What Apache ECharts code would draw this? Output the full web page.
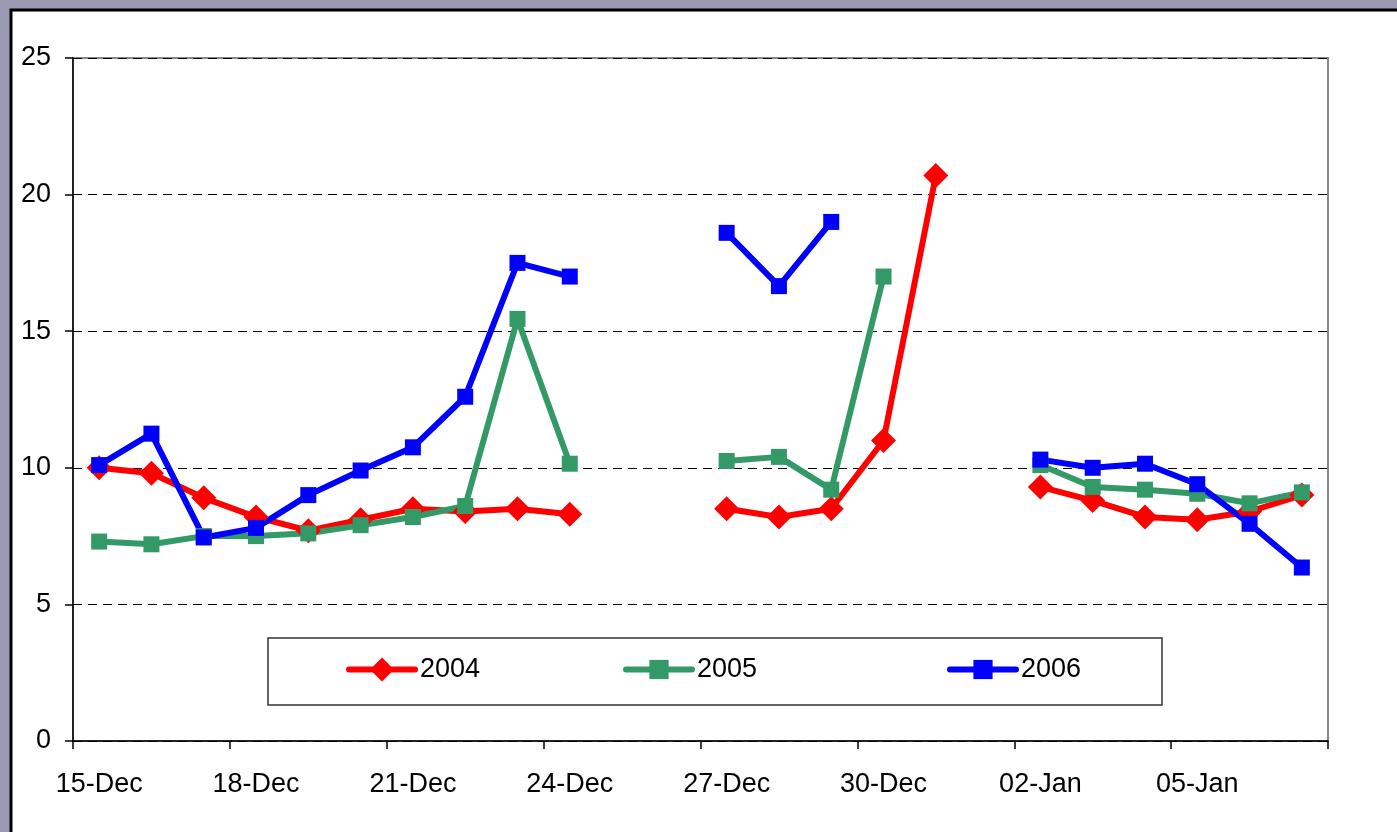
<!DOCTYPE html>
<html>
<head>
<meta charset="utf-8">
<script src="https://cdn.jsdelivr.net/npm/echarts@6/dist/echarts.min.js"></script>
<style>
  html, body { margin: 0; padding: 0; background: #9a9ab4; }
  #chart { width: 1397px; height: 832px; }
</style>
</head>
<body>
<div id="chart"></div>
<script>
var fontsty = 'Liberation Sans';
var days = ['15-Dec','16-Dec','17-Dec','18-Dec','19-Dec','20-Dec','21-Dec','22-Dec','23-Dec','24-Dec',
  '25-Dec','26-Dec','27-Dec','28-Dec','29-Dec','30-Dec','31-Dec',
  '01-Jan','02-Jan','03-Jan','04-Jan','05-Jan','06-Jan','07-Jan'];
var y2004 = [10.0, 9.8, 8.9, 8.2, 7.7, 8.1, 8.5, 8.4, 8.5, 8.3, null, null, 8.5, 8.2, 8.5, 11.0, 20.7,
  null, 9.3, 8.8, 8.2, 8.1, 8.4, 9.0];
var y2005 = [7.3, 7.2, 7.5, 7.5, 7.6, 7.9, 8.2, 8.6, 15.45, 10.15, null, null, 10.25, 10.4, 9.2, 17.0, null,
  null, 10.1, 9.3, 9.2, 9.05, 8.7, 9.1];
var y2006 = [10.1, 11.25, 7.45, 7.8, 9.0, 9.9, 10.75, 12.6, 17.5, 17.0, null, null, 18.6, 16.65, 19.0, null, null,
  null, 10.3, 10.0, 10.15, 9.4, 7.95, 6.35];
var yTicks = [0, 5, 10, 15, 20, 25];

var myChart = echarts.init(document.getElementById('chart'));

function makeLegend(name, left, h) {
  return {
    data: [name],
    left: left,
    top: 656,
    padding: 0,
    itemWidth: 66,
    itemHeight: h,
    lineStyle: { width: 6, cap: 'round' },
    textStyle: { fontSize: 27, fontFamily: fontsty, color: '#000' },
    selectedMode: false
  };
}

function makeSeries(name, data, color, symbol, size) {
  return {
    name: name,
    type: 'line',
    data: data,
    symbol: symbol,
    symbolSize: size,
    connectNulls: false,
    lineStyle: { color: color, width: 6 },
    itemStyle: { color: color },
    emphasis: { disabled: true }
  };
}

var option = {
  animation: false,
  backgroundColor: '#9a9ab4',
  graphic: [
    {
      type: 'rect',
      z: -10,
      shape: { x: 11, y: 10, width: 1400, height: 840 },
      style: { fill: '#fff', stroke: '#000', lineWidth: 3 },
      silent: true
    },
    {
      type: 'rect',
      z: -5,
      shape: { x: 268, y: 638, width: 894, height: 67 },
      style: { fill: '#fff', stroke: '#333', lineWidth: 1.5 },
      silent: true
    }
  ],
  grid: {
    left: 73, top: 58, right: 69, bottom: 91,
    show: true, borderColor: '#888', borderWidth: 2, backgroundColor: 'transparent'
  },
  legend: [
    makeLegend('2004', 346, 30),
    makeLegend('2005', 623, 24),
    makeLegend('2006', 947, 24)
  ],
  xAxis: {
    type: 'category',
    data: days,
    boundaryGap: true,
    axisLine: { lineStyle: { color: '#000', width: 1.5 } },
    axisTick: { show: true, interval: 2, length: 8, lineStyle: { color: '#000', width: 1.5 } },
    axisLabel: { interval: 2, margin: 30, fontSize: 27, fontFamily: fontsty, color: '#000' },
    splitLine: { show: false }
  },
  yAxis: {
    type: 'value',
    min: 0, max: 25, interval: 5,
    axisLine: { show: true, lineStyle: { color: '#000', width: 1.5 } },
    axisTick: { show: true, length: 8, lineStyle: { color: '#000', width: 1.5 } },
    axisLabel: {
      margin: 22, fontSize: 27, fontFamily: fontsty, color: '#000',
      formatter: function (v) { return yTicks.indexOf(v) >= 0 ? String(v) : ''; }
    },
    splitLine: { show: true, lineStyle: { color: '#000', width: 1, type: [9, 6] } }
  },
  series: [
    makeSeries('2004', y2004, '#ff0000', 'diamond', 25),
    makeSeries('2005', y2005, '#339966', 'rect', 16),
    makeSeries('2006', y2006, '#0000ff', 'rect', 16)
  ]
};
myChart.setOption(option);
</script>
</body>
</html>
